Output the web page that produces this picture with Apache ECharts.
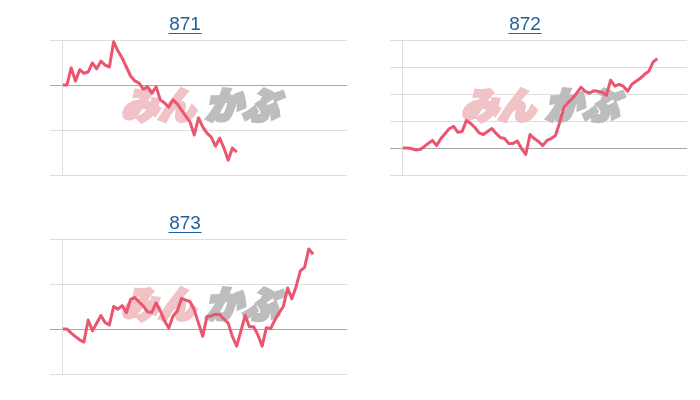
<!DOCTYPE html>
<html>
<head>
<meta charset="utf-8">
<script src="https://cdn.jsdelivr.net/npm/echarts@6/dist/echarts.min.js"></script>
<style>
html,body{margin:0;padding:0;background:#fff;}
#c{width:700px;height:400px;}
</style>
</head>
<body>
<div id="c"></div>
<script>
// ---- data (percent change from first value) ----
const titles = ['871', '872', '873'];
const pct871 = [0, 0, 3.8, 0.9, 3.4, 2.6, 2.9, 4.9, 3.6, 5.3, 4.4, 4.0, 9.6, 7.6, 6.0, 4.0, 2.0, 0.9, 0.4, -0.9,
  -0.4, -1.8, -0.4, -3.3, -4.0, -4.9, -3.3, -4.2, -5.6, -6.9, -8.2, -11.1, -7.3, -9.3, -10.7, -11.6, -13.6, -11.8,
  -14.0, -16.7, -14.0, -14.9];
const pct872 = [0, 0, -0.2, -0.7, -0.6, 0.4, 1.7, 2.8, 0.9, 3.5, 5.4, 7.2, 8.0, 5.8, 6.1, 10.2, 9.1, 7.6, 5.6, 5.0,
  6.1, 7.2, 5.4, 3.9, 3.5, 1.7, 1.7, 2.6, -0.2, -2.4, 5.0, 3.5, 2.4, 0.9, 2.8, 3.5, 4.6, 9.5, 15.1, 16.9,
  18.4, 20.3, 22.5, 21.0, 20.3, 21.2, 21.0, 20.6, 19.5, 25.1, 22.9, 23.6, 22.9, 21.0, 23.6, 24.7, 25.8, 27.3, 28.4, 31.8,
  33.1];
const pct873 = [0, 0, -0.9, -1.7, -2.4, -2.9, 2.0, -0.4, 1.3, 3.0, 1.4, 0.9, 5.0, 4.4, 5.2, 3.6, 6.6, 7.0, 6.0, 5.1,
  3.8, 3.7, 5.8, 4.0, 1.8, 0.2, 2.9, 4.0, 6.8, 6.4, 6.1, 4.2, 1.3, -1.6, 2.8, 2.9, 3.3, 3.2, 2.2, 1.3,
  -1.7, -3.8, -0.4, 3.0, 0.5, 0.5, -1.3, -3.8, 0.3, 0.1, 2.0, 3.6, 5.0, 9.1, 6.7, 9.4, 12.9, 13.7, 17.8, 16.6];
const ticks871 = [-20, -10, 0, 10];
const ticks872 = [-10, 0, 10, 20, 30, 40];
const ticks873 = [-10, 0, 10, 20];

const seriesVals = [pct871, pct872, pct873];
const tickSets = [ticks871, ticks872, ticks873];

// ---- layout / style ----
const panels = [
  {left: 50, top: 40, width: 297, height: 135, cx: 185, ty: 25},
  {left: 390, top: 40, width: 297, height: 135, cx: 525, ty: 25},
  {left: 50, top: 239, width: 297, height: 135, cx: 185, ty: 224}
];
const LINE = '#ea5670';
const LIGHT = '#dedede';
const DARK = '#a9a9a9';
const TITLE = '#22609b';
const WM_PINK = '#f1c2c6';
const WM_GRAY = '#bdbdbd';

const chart = echarts.init(document.getElementById('c'), null, {renderer: 'canvas'});

const grid = [], xAxis = [], yAxis = [], series = [], graphic = [];
panels.forEach((p, k) => {
  grid.push({left: p.left, top: p.top, width: p.width, height: p.height, containLabel: false});
  xAxis.push({
    type: 'value', gridIndex: k, min: -3, max: 67,
    axisLine: {show: false}, axisTick: {show: false}, axisLabel: {show: false}, splitLine: {show: false}
  });
  const t = tickSets[k];
  const colors = t.map(v => v === 0 ? DARK : LIGHT);
  yAxis.push({
    type: 'value', gridIndex: k, min: t[0], max: t[t.length - 1], interval: t[1] - t[0],
    axisLine: {show: true, onZero: true, lineStyle: {color: LIGHT, width: 1}},
    axisTick: {show: false}, axisLabel: {show: false},
    splitLine: {show: true, lineStyle: {color: colors, width: 1}}
  });
  series.push({
    type: 'line', xAxisIndex: k, yAxisIndex: k, z: 5,
    data: seriesVals[k].map((v, i) => [i, v]),
    showSymbol: false, symbol: 'none',
    lineStyle: {color: LINE, width: 3, join: 'round'},
    itemStyle: {color: LINE}
  });
  // title (link style)
  graphic.push({
    type: 'text', z: 10,
    style: {text: titles[k], x: p.cx, y: p.ty, textAlign: 'center', textVerticalAlign: 'middle',
      font: '19px "Liberation Sans", Arial, sans-serif', fill: TITLE}
  });
  graphic.push({
    type: 'line', z: 10,
    shape: {x1: p.cx - 16.5, y1: p.ty + 8.5, x2: p.cx + 16.5, y2: p.ty + 8.5},
    style: {stroke: TITLE, lineWidth: 1.2}
  });
  // watermark
  const wx = p.left + 71, wy = p.top + 65;
  graphic.push({
    type: 'text', z: 1,
    style: {text: 'みん', x: wx, y: wy, textAlign: 'left', textVerticalAlign: 'middle',
      font: 'italic 900 37px "Noto Sans CJK JP", sans-serif', fill: WM_PINK,
      stroke: WM_PINK, lineWidth: 3.5}
  });
  graphic.push({
    type: 'text', z: 1,
    style: {text: 'かぶ', x: wx + 84, y: wy, textAlign: 'left', textVerticalAlign: 'middle',
      font: 'italic 900 37px "Noto Sans CJK JP", sans-serif', fill: WM_GRAY,
      stroke: WM_GRAY, lineWidth: 3.5}
  });
});

chart.setOption({
  animation: false,
  backgroundColor: '#ffffff',
  grid, xAxis, yAxis, series, graphic
});
</script>
</body>
</html>
